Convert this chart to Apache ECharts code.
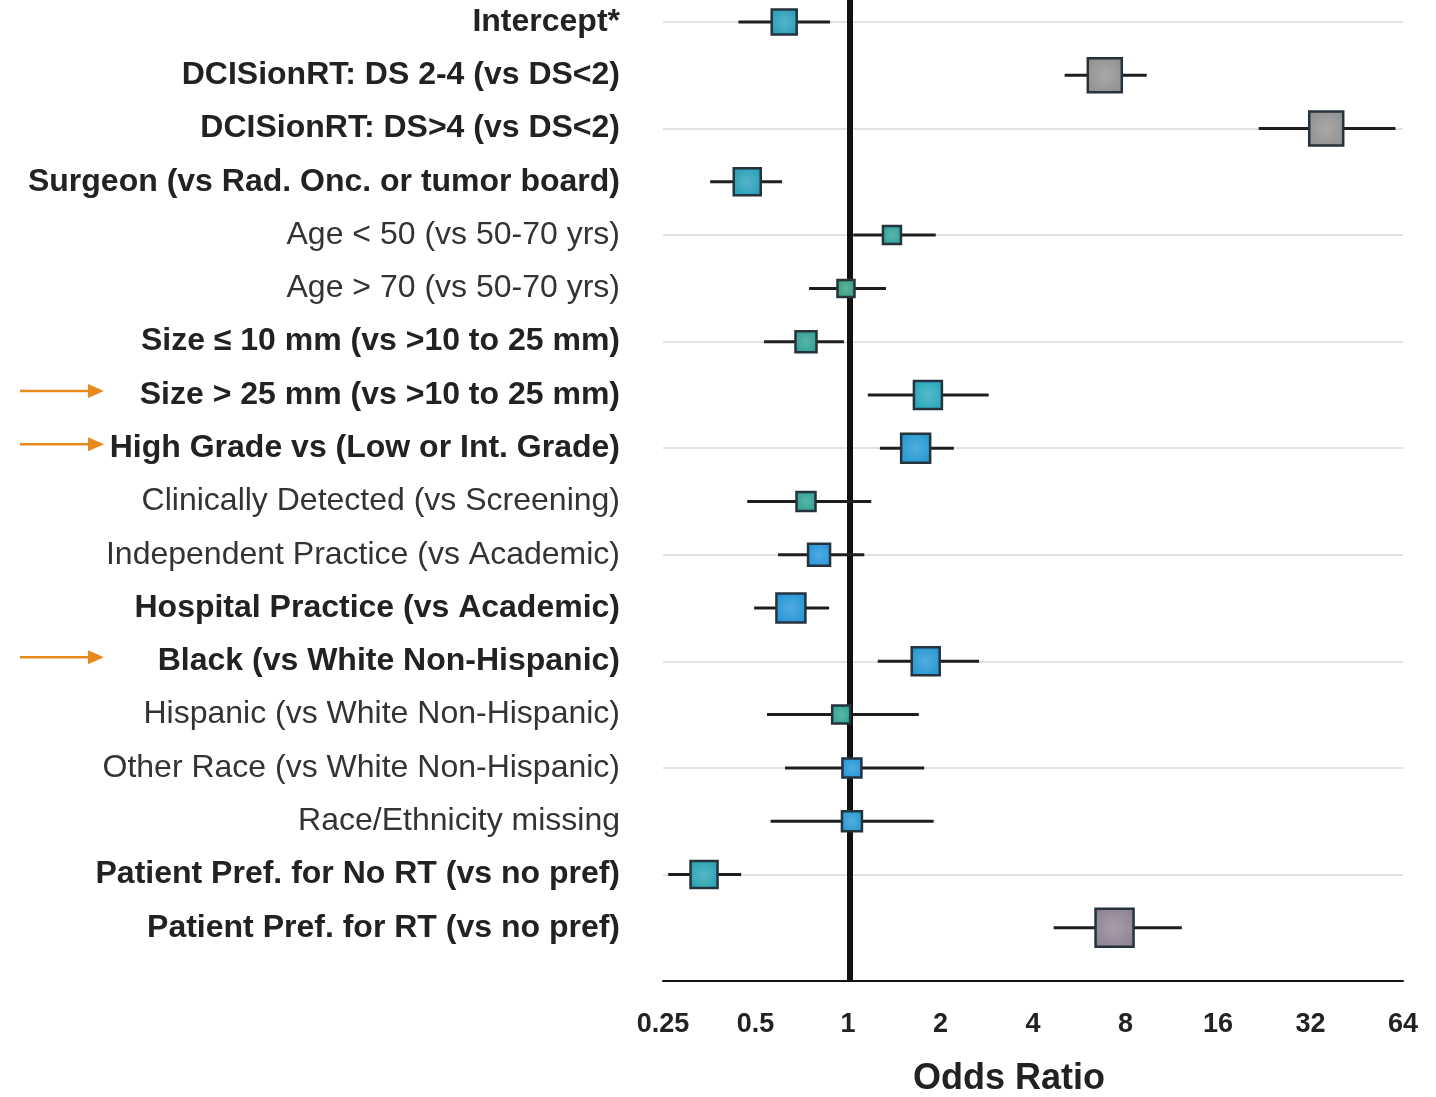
<!DOCTYPE html>
<html>
<head>
<meta charset="utf-8">
<script src="https://cdn.jsdelivr.net/npm/echarts@6/dist/echarts.min.js"></script>
<style>
  html, body { margin: 0; padding: 0; background: #fff; }
  #main { width: 1436px; height: 1097px; }
</style>
</head>
<body>
<div id="main"></div>
<script>
// rows, top to bottom
var labels = [
  'Intercept*',
  'DCISionRT: DS 2-4 (vs DS<2)',
  'DCISionRT: DS>4 (vs DS<2)',
  'Surgeon (vs Rad. Onc. or tumor board)',
  'Age < 50 (vs 50-70 yrs)',
  'Age > 70 (vs 50-70 yrs)',
  'Size ≤ 10 mm (vs >10 to 25 mm)',
  'Size > 25 mm (vs >10 to 25 mm)',
  'High Grade vs (Low or Int. Grade)',
  'Clinically Detected (vs Screening)',
  'Independent Practice (vs Academic)',
  'Hospital Practice (vs Academic)',
  'Black (vs White Non-Hispanic)',
  'Hispanic (vs White Non-Hispanic)',
  'Other Race (vs White Non-Hispanic)',
  'Race/Ethnicity missing',
  'Patient Pref. for No RT (vs no pref)',
  'Patient Pref. for RT (vs no pref)'
];
var oddsRatio = [0.62, 6.85, 36.0, 0.47, 1.39, 0.985, 0.73, 1.82, 1.66, 0.73, 0.805, 0.652, 1.79, 0.95, 1.03, 1.03, 0.34, 7.37];
var ciLow     = [0.44, 5.07, 21.7, 0.356, 1.04, 0.747, 0.533, 1.16, 1.27, 0.47, 0.592, 0.495, 1.25, 0.545, 0.624, 0.56, 0.26, 4.67];
var ciHigh    = [0.874, 9.38, 60.5, 0.61, 1.93, 1.33, 0.97, 2.87, 2.21, 1.19, 1.13, 0.868, 2.67, 1.70, 1.77, 1.90, 0.449, 12.2];
var boldRows = [0, 1, 2, 3, 6, 7, 8, 11, 12, 16, 17];
var arrowRows = [7, 8, 12];
var xTicks = [0.25, 0.5, 1, 2, 4, 8, 16, 32, 64];

// box look per row
var boxSize = [25, 34, 34, 27, 18, 17, 21, 28, 29, 19, 22, 29, 28, 18, 19, 20, 27, 38];
var boxColor = ['#1d9bb5', '#8c8c8c', '#8c8c8c', '#1d9bb5', '#219e95', '#2a9a78', '#239c8c', '#1ea3b8', '#1a93d0',
  '#239c8c', '#1a90d8', '#1a8fd5', '#1a92d0', '#22a08a', '#1a90d8', '#1a94d0', '#1e9fb0', '#8a7d8e'];

var FONT = '"Liberation Sans", Arial, sans-serif';

var myChart = echarts.init(document.getElementById('main'));

var catData = labels.concat(['']);
var forest = [];
for (var i = 0; i < labels.length; i++) {
  forest.push([Math.log2(oddsRatio[i]), i, Math.log2(ciLow[i]), Math.log2(ciHigh[i]), boxSize[i], boxColor[i]]);
}

function lighten(hex, f) {
  var n = parseInt(hex.slice(1), 16);
  var r = (n >> 16) & 255, g = (n >> 8) & 255, b = n & 255;
  r = Math.round(r + (255 - r) * f); g = Math.round(g + (255 - g) * f); b = Math.round(b + (255 - b) * f);
  return 'rgb(' + r + ',' + g + ',' + b + ')';
}

var option = {
  animation: false,
  backgroundColor: '#fff',
  grid: { left: 663, right: 33, top: 22, bottom: 116, containLabel: false, outerBoundsMode: 'none' },
  xAxis: {
    type: 'value',
    min: -2,
    max: 6,
    interval: 1,
    axisLine: { show: true, onZero: false, lineStyle: { color: '#111', width: 2 } },
    axisTick: { show: false },
    splitLine: { show: false },
    axisLabel: {
      margin: 30,
      fontFamily: FONT,
      fontWeight: 'bold',
      fontSize: 27,
      color: '#222',
      formatter: function (v) {
        var t = Math.pow(2, v);
        return xTicks.indexOf(t) >= 0 ? String(t) : '';
      }
    },
    name: 'Odds Ratio',
    nameLocation: 'middle',
    nameGap: 80,
    nameTextStyle: { fontFamily: FONT, fontWeight: 'bold', fontSize: 36, color: '#222', padding: [0, 48, 0, 0] }
  },
  yAxis: {
    type: 'category',
    data: catData,
    inverse: true,
    boundaryGap: false,
    axisLine: { show: false },
    axisTick: { show: false },
    splitLine: {
      show: true,
      interval: function (idx) { return idx % 2 === 0 && idx < labels.length; },
      lineStyle: { color: '#e2e2e2', width: 2 }
    },
    axisLabel: {
      margin: 43,
      interval: 0,
      formatter: function (v, idx) {
        if (!v) return '';
        return boldRows.indexOf(idx) >= 0 ? '{b|' + v + '}' : '{r|' + v + '}';
      },
      rich: {
        b: { fontFamily: FONT, fontWeight: 'bold', fontSize: 32, color: '#222' },
        r: { fontFamily: FONT, fontWeight: 'normal', fontSize: 32, color: '#333' }
      }
    }
  },
  series: [
    {
      // reference line at OR = 1
      type: 'custom',
      clip: false,
      silent: true,
      data: [[0]],
      renderItem: function (params, api) {
        var top = api.coord([api.value(0), 0]);
        var bot = api.coord([api.value(0), labels.length]);
        return {
          type: 'line',
          shape: { x1: top[0] + 2, y1: top[1] - 22, x2: bot[0] + 2, y2: bot[1] },
          style: { stroke: '#111', lineWidth: 6 }
        };
      }
    },
    {
      type: 'custom',
      clip: false,
      data: forest,
      encode: { x: [0, 2, 3], y: 1 },
      renderItem: function (params, api) {
        var row = api.value(1);
        var c = api.coord([api.value(0), row]);
        var lo = api.coord([api.value(2), row]);
        var hi = api.coord([api.value(3), row]);
        var s = api.value(4);
        var col = forest[params.dataIndex][5];
        return {
          type: 'group',
          children: [
            {
              type: 'line',
              shape: { x1: lo[0], y1: c[1], x2: hi[0], y2: c[1] },
              style: { stroke: '#1e1e1e', lineWidth: 3 }
            },
            {
              type: 'rect',
              shape: { x: c[0] - s / 2, y: c[1] - s / 2, width: s, height: s },
              style: {
                fill: {
                  type: 'radial', x: 0.5, y: 0.5, r: 0.7,
                  colorStops: [{ offset: 0, color: lighten(col, 0.25) }, { offset: 1, color: col }]
                },
                stroke: '#26323c',
                lineWidth: 2.5
              }
            }
          ]
        };
      }
    }
  ]
};

myChart.setOption(option);

// orange arrows pointing at highlighted rows
var arrows = [];
arrowRows.forEach(function (r) {
  var y = myChart.convertToPixel({ yAxisIndex: 0 }, r) - 4;
  arrows.push({
    type: 'line',
    shape: { x1: 20, y1: y, x2: 92, y2: y },
    style: { stroke: '#e8891c', lineWidth: 2.5 }
  });
  arrows.push({
    type: 'polygon',
    shape: { points: [[88, y - 7], [104, y], [88, y + 7]] },
    style: { fill: '#e8891c' }
  });
});
myChart.setOption({ graphic: arrows });
</script>
</body>
</html>
